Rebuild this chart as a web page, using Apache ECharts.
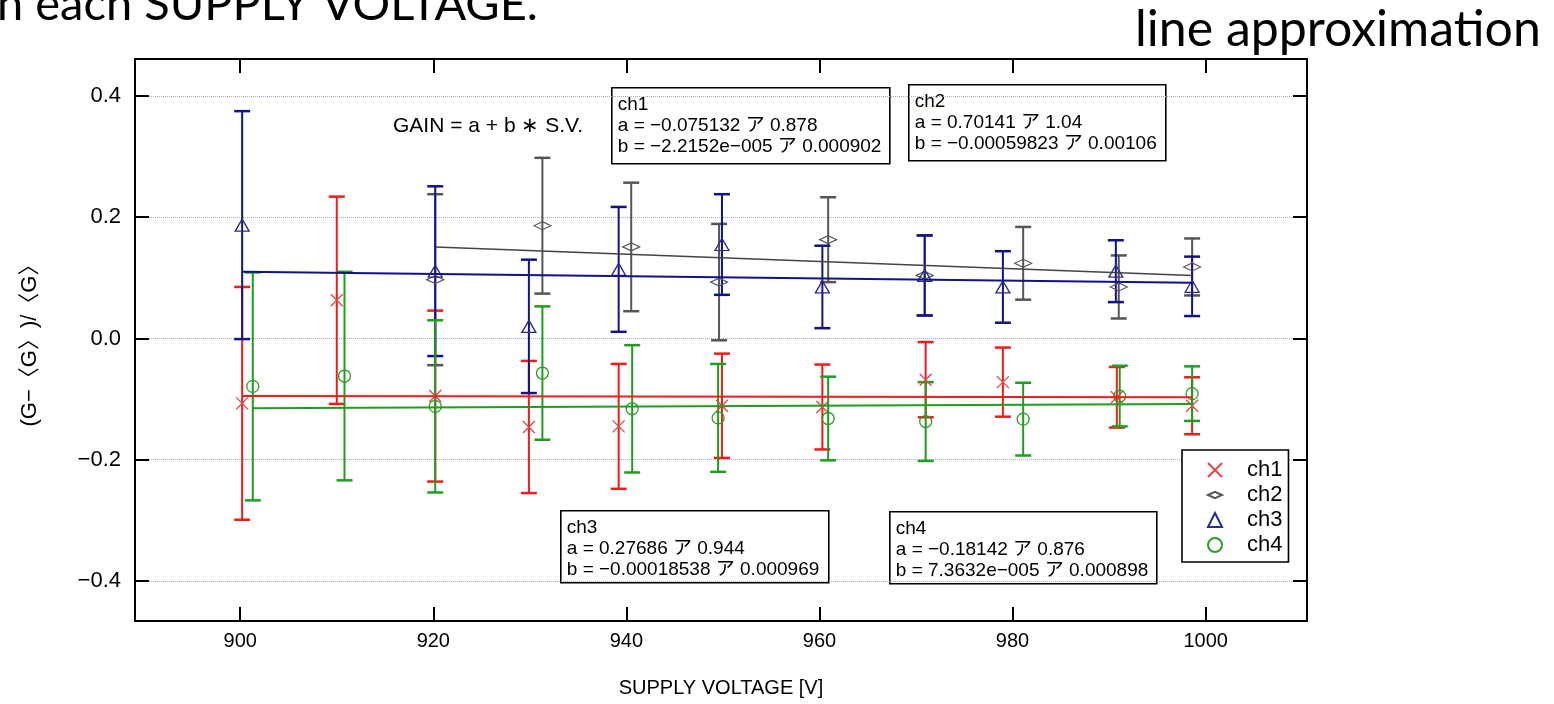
<!DOCTYPE html>
<html>
<head>
<meta charset="utf-8">
<script src="https://cdn.jsdelivr.net/npm/echarts@6.0.0/dist/echarts.min.js"></script>
<style>
html, body { margin: 0; padding: 0; background: #fff; }
#main { width: 1554px; height: 704px; }
</style>
</head>
<body>
<div id="main"></div>
<script>
// tick values
var xTicks = [900, 920, 940, 960, 980, 1000];
var yTicks = [-0.4, -0.2, 0.0, 0.2, 0.4];

// ch1 (red x)
var ch1X = [900.2, 910.0, 920.2, 929.9, 939.2, 949.9, 960.3, 971.0, 979.0, 990.8, 998.6];
var ch1Y = [-0.107, 0.063, -0.095, -0.146, -0.145, -0.111, -0.113, -0.068, -0.072, -0.097, -0.111];
var ch1Err = [0.192, 0.171, 0.141, 0.109, 0.103, 0.086, 0.070, 0.062, 0.057, 0.050, 0.047];

// ch2 (gray diamond)
var ch2X = [920.2, 931.3, 940.5, 949.6, 960.9, 970.9, 981.1, 991.0, 998.6];
var ch2Y = [0.097, 0.186, 0.151, 0.093, 0.163, 0.104, 0.124, 0.085, 0.118];
var ch2Err = [0.141, 0.112, 0.106, 0.096, 0.070, 0.066, 0.060, 0.052, 0.047];

// ch3 (blue triangle)
var ch3X = [900.2, 920.2, 929.9, 939.2, 949.9, 960.3, 970.9, 979.0, 990.7, 998.6];
var ch3Y = [0.187, 0.111, 0.020, 0.114, 0.155, 0.085, 0.104, 0.085, 0.111, 0.086];
var ch3Err = [0.188, 0.140, 0.110, 0.103, 0.083, 0.068, 0.066, 0.059, 0.051, 0.049];

// ch4 (green circle)
var ch4X = [901.3, 910.8, 920.2, 931.3, 940.6, 949.5, 960.9, 971.0, 981.1, 991.1, 998.6];
var ch4Y = [-0.079, -0.062, -0.112, -0.057, -0.116, -0.131, -0.132, -0.137, -0.133, -0.095, -0.091];
var ch4Err = [0.188, 0.172, 0.142, 0.110, 0.105, 0.089, 0.069, 0.065, 0.060, 0.050, 0.045];

// line fits, end points
var ch1FitX = [900.2, 998.6];
var ch1FitY = [-0.095, -0.097];
var ch2FitX = [920.2, 998.6];
var ch2FitY = [0.151, 0.104];
var ch3FitX = [900.2, 998.6];
var ch3FitY = [0.110, 0.092];
var ch4FitX = [901.3, 998.6];
var ch4FitY = [-0.115, -0.108];

// fit parameter boxes
var ch1Text = ['ch1', 'a = \u22120.075132 ア 0.878', 'b = \u22122.2152e\u2212005 ア 0.000902'];
var ch2Text = ['ch2', 'a = 0.70141 ア 1.04', 'b = \u22120.00059823 ア 0.00106'];
var ch3Text = ['ch3', 'a = 0.27686 ア 0.944', 'b = \u22120.00018538 ア 0.000969'];
var ch4Text = ['ch4', 'a = \u22120.18142 ア 0.876', 'b = 7.3632e\u2212005 ア 0.000898'];

var FONT = '"Liberation Sans", Arial, "Noto Sans CJK JP", sans-serif';
var SLIDE = 'Lato, "Open Sans", sans-serif';

var chart = echarts.init(document.getElementById('main'));

function pairs(xs, ys) {
  return xs.map(function (x, i) { return [x, ys[i]]; });
}

//error bars drawn with a custom series
function errBars(name, xs, ys, errs, color) {
  var data = xs.map(function (x, i) { return [x, ys[i] - errs[i], ys[i] + errs[i]]; });
  return {
    name: name + ' err',
    type: 'custom',
    data: data,
    encode: { x: 0, y: [1, 2] },
    itemStyle: { color: color },
    silent: true,
    renderItem: function (params, api) {
      var lo = api.coord([api.value(0), api.value(1)]);
      var hi = api.coord([api.value(0), api.value(2)]);
      var half = 8;
      return {
        type: 'group',
        children: [
          { type: 'line', shape: { x1: lo[0], y1: lo[1], x2: hi[0], y2: hi[1] }, style: { stroke: color, lineWidth: 2 } },
          { type: 'line', shape: { x1: lo[0] - half, y1: lo[1], x2: lo[0] + half, y2: lo[1] }, style: { stroke: color, lineWidth: 2.5 } },
          { type: 'line', shape: { x1: hi[0] - half, y1: hi[1], x2: hi[0] + half, y2: hi[1] }, style: { stroke: color, lineWidth: 2.5 } }
        ]
      };
    }
  };
}

function fitLine(name, xs, ys, color, width) {
  return {
    name: name + ' fit',
    type: 'line',
    data: pairs(xs, ys),
    showSymbol: false,
    silent: true,
    lineStyle: { color: color, width: width }
  };
}

function points(name, xs, ys, symbol, size, color) {
  return {
    name: name,
    type: 'scatter',
    data: pairs(xs, ys),
    symbol: symbol,
    symbolSize: size,
    silent: true,
    itemStyle: { color: 'transparent', borderColor: color, borderWidth: 1.3, opacity: 1 }
  };
}

function paramBox(left, top, width, height, lines) {
  return {
    type: 'group',
    left: left,
    top: top,
    children: [
      { type: 'rect', shape: { x: 0, y: 0, width: width, height: height },
        style: { fill: '#fff', stroke: '#000', lineWidth: 1.6 } },
      { type: 'text', x: 6, y: 6,
        style: { text: lines.join('\n'), fontSize: 19, fontFamily: FONT, fill: '#000', lineHeight: 21 } }
    ]
  };
}

var crossSym = 'path://M0,0L10,10M10,0L0,10';
var diamondSym = 'path://M0,4L9,0L18,4L9,8Z';

function frameAxis(pos, min, max, ticks) {
  return {
    type: 'value', min: min, max: max, position: pos,
    axisLine: { onZero: false, lineStyle: { color: '#000', width: 2 } },
    axisTick: { inside: true, length: 14, customValues: ticks, lineStyle: { color: '#000', width: 2 } },
    axisLabel: { show: false },
    splitLine: { show: false }
  };
}

var option = {
  animation: false,
  backgroundColor: '#fff',
  grid: { left: 135, right: 247, top: 59, bottom: 83 },
  legend: {
    data: ['ch1', 'ch2', 'ch3', 'ch4'],
    orient: 'vertical',
    left: 1182,
    top: 450,
    padding: [9, 6, 6, 25],
    itemGap: 3,
    itemWidth: 14,
    itemHeight: 14,
    borderColor: '#000',
    borderWidth: 1.6,
    backgroundColor: '#fff',
    selectedMode: false,
    textStyle: { fontSize: 22, fontFamily: FONT, color: '#000', padding: [0, 0, 0, 20], lineHeight: 20 }
  },
  xAxis: [
    {
      type: 'value', min: 889.1, max: 1010.5, position: 'bottom',
      name: 'SUPPLY VOLTAGE [V]', nameLocation: 'middle', nameGap: 57,
      nameTextStyle: { fontSize: 20, fontFamily: FONT, color: '#000' },
      axisLine: { onZero: false, lineStyle: { color: '#000', width: 2 } },
      axisTick: { inside: true, length: 14, customValues: xTicks, lineStyle: { color: '#000', width: 2 } },
      axisLabel: { customValues: xTicks, fontSize: 20, fontFamily: FONT, color: '#000', margin: 10,
        formatter: function (v) { return String(v); } },
      splitLine: { show: false }
    },
    frameAxis('top', 889.1, 1010.5, xTicks)
  ],
  yAxis: [
    {
      type: 'value', min: -0.466, max: 0.461, position: 'left',
      name: '(G\u2212\u3008G\u3009)/\u3008G\u3009', nameLocation: 'middle', nameGap: 94, nameRotate: 90,
      nameTextStyle: { fontSize: 22, fontFamily: '"Liberation Sans", "Noto Sans CJK JP", sans-serif', color: '#000' },
      axisLine: { onZero: false, lineStyle: { color: '#000', width: 2 } },
      axisTick: { inside: true, length: 14, customValues: yTicks, lineStyle: { color: '#000', width: 2 } },
      axisLabel: { customValues: yTicks, fontSize: 22, fontFamily: FONT, color: '#000', margin: 14,
        formatter: function (v) { return (v < 0 ? '\u2212' : '') + Math.abs(v).toFixed(1); } },
      splitLine: { show: true, lineStyle: { color: '#a8a8c8', type: 'dotted', width: 1 } }
    },
    frameAxis('right', -0.466, 0.461, yTicks)
  ],
  graphic: [
    { type: 'text', left: -3, top: -19,
      style: { text: 'n each SUPPLY VOLTAGE.', fontSize: 47, fontFamily: SLIDE, fill: '#000' } },
    { type: 'text', left: 1135, top: 5,
      style: { text: 'line approximation', fontSize: 50, fontFamily: SLIDE, fill: '#000' } },
    { type: 'text', left: 393, top: 116,
      style: { text: 'GAIN = a + b \u2217 S.V.', fontSize: 21, fontFamily: FONT, fill: '#000' } },
    paramBox(611, 87, 278, 76, ch1Text),
    paramBox(908, 84, 257, 76, ch2Text),
    paramBox(560, 510, 268, 72, ch3Text),
    paramBox(889, 511, 267, 72, ch4Text)
  ],
  series: [
    fitLine('ch1', ch1FitX, ch1FitY, '#f01c1c', 2),
    fitLine('ch2', ch2FitX, ch2FitY, '#444', 1.6),
    fitLine('ch3', ch3FitX, ch3FitY, '#12128a', 2),
    fitLine('ch4', ch4FitX, ch4FitY, '#1e9e1e', 2),
    errBars('ch1', ch1X, ch1Y, ch1Err, '#f01c1c'),
    errBars('ch2', ch2X, ch2Y, ch2Err, '#555'),
    errBars('ch3', ch3X, ch3Y, ch3Err, '#12128a'),
    errBars('ch4', ch4X, ch4Y, ch4Err, '#1e9e1e'),
    points('ch1', ch1X, ch1Y, crossSym, 12, '#e04848'),
    points('ch2', ch2X, ch2Y, diamondSym, [17, 8], '#555'),
    points('ch3', ch3X, ch3Y, 'triangle', [14, 12], '#2b2b8f'),
    points('ch4', ch4X, ch4Y, 'circle', 12, '#2e9a2e')
  ]
};

chart.setOption(option);
</script>
</body>
</html>
